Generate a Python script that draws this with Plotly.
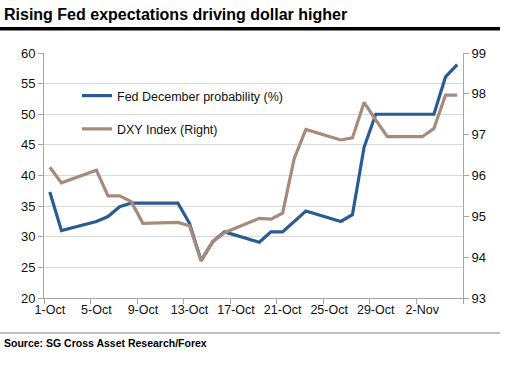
import plotly.graph_objects as go

dates = ["2015-10-01", "2015-10-02", "2015-10-05", "2015-10-06", "2015-10-07", "2015-10-08",
         "2015-10-09", "2015-10-12", "2015-10-13", "2015-10-14", "2015-10-15", "2015-10-16",
         "2015-10-19", "2015-10-20", "2015-10-21", "2015-10-22", "2015-10-23", "2015-10-26",
         "2015-10-27", "2015-10-28", "2015-10-29", "2015-10-30", "2015-11-02", "2015-11-03",
         "2015-11-04", "2015-11-05"]
fed_prob = [37.3, 31.0, 32.5, 33.3, 34.9, 35.5, 35.5, 35.5, 32.2, 26.1, 29.2, 30.8,
            29.1, 30.8, 30.8, 32.5, 34.2, 32.5, 33.6, 44.6, 50.0, 50.0, 50.0, 50.0,
            56.1, 58.1]
dxy = [96.2, 95.82, 96.13, 95.5, 95.5, 95.36, 94.83, 94.85, 94.77, 93.91, 94.38, 94.6,
       94.95, 94.93, 95.08, 96.42, 97.13, 96.87, 96.92, 97.79, 97.36, 96.95, 96.95, 97.15,
       97.97, 97.97]
tick_dates = ["2015-10-01", "2015-10-05", "2015-10-09", "2015-10-13", "2015-10-17",
              "2015-10-21", "2015-10-25", "2015-10-29", "2015-11-02"]
tick_labels = ["1-Oct", "5-Oct", "9-Oct", "13-Oct", "17-Oct", "21-Oct", "25-Oct", "29-Oct", "2-Nov"]

BLUE = "#2A5C93"
BROWN = "#A88A7B"
AX = "#A6A6A6"
FONT = "Liberation Sans, Arial, sans-serif"
TXT = "#111111"

fig = go.Figure()
fig.add_trace(go.Scatter(x=dates, y=fed_prob, mode="lines", name="Fed December probability (%)",
                         line=dict(color=BLUE, width=3.2), legendgroup="a"))
fig.add_trace(go.Scatter(x=dates, y=dxy, mode="lines", name="DXY Index (Right)", yaxis="y2",
                         line=dict(color=BROWN, width=3.2), legendgroup="b"))

W, H = 505, 372
L, R, T, B = 44, 42, 53, 74
pw, ph = W - L - R, H - T - B

def px_x(p):
    return (p - L) / pw

def px_y(p):
    return (H - B - p) / ph

fig.update_layout(
    width=W, height=H,
    margin=dict(l=L, r=R, t=T, b=B),
    paper_bgcolor="white", plot_bgcolor="white",
    font=dict(family=FONT, size=12, color=TXT),
    showlegend=True,
    legend=dict(x=px_x(77), y=px_y(81), xanchor="left", yanchor="top",
                bgcolor="rgba(0,0,0,0)", font=dict(size=12.5, color=TXT),
                tracegroupgap=14, traceorder="grouped"),
    xaxis=dict(type="date", range=["2015-09-30 12:00", "2015-11-05 12:00"],
               tickvals=tick_dates, ticktext=tick_labels, ticks="",
               showgrid=False, showline=True, linecolor=AX, linewidth=1,
               tickfont=dict(size=12.5, color=TXT),
               minor=dict(tick0="2015-09-30 12:00", dtick=4 * 86400000, ticks="outside",
                          ticklen=5, tickcolor=AX, showgrid=False),
               zeroline=False),
    yaxis=dict(range=[20, 60], dtick=5, showgrid=True, gridcolor="#D9D9D9", gridwidth=1,
               showline=True, linecolor=AX, linewidth=1, ticks="outside", ticklen=5,
               tickcolor=AX, zeroline=False, tickfont=dict(size=13, color=TXT)),
    yaxis2=dict(range=[93, 99], dtick=1, overlaying="y", side="right", showgrid=False,
                showline=True, linecolor=AX, linewidth=1, ticks="outside", ticklen=5,
                tickcolor=AX, zeroline=False, tickfont=dict(size=13, color=TXT)),
    annotations=[
        dict(text="<b>Rising Fed expectations driving dollar higher</b>", xref="paper", yref="paper",
             x=px_x(2), y=px_y(14), xanchor="left", yanchor="middle", showarrow=False,
             font=dict(size=16, color="black", family=FONT)),
        dict(text="<b>Source: SG Cross Asset Research/Forex</b>", xref="paper", yref="paper",
             x=px_x(2), y=px_y(343), xanchor="left", yanchor="middle", showarrow=False,
             font=dict(size=10.5, color="black", family=FONT)),
    ],
    shapes=[
        dict(type="line", xref="paper", yref="paper", x0=px_x(0), x1=px_x(500),
             y0=px_y(28.7), y1=px_y(28.7), line=dict(color="black", width=3.5)),
        dict(type="line", xref="paper", yref="paper", x0=px_x(0), x1=px_x(500),
             y0=px_y(333), y1=px_y(333), line=dict(color="#808080", width=1)),
    ],
)

fig.write_html("out.html", config={"displayModeBar": False},
               post_script="document.body.style.margin='0px';")
